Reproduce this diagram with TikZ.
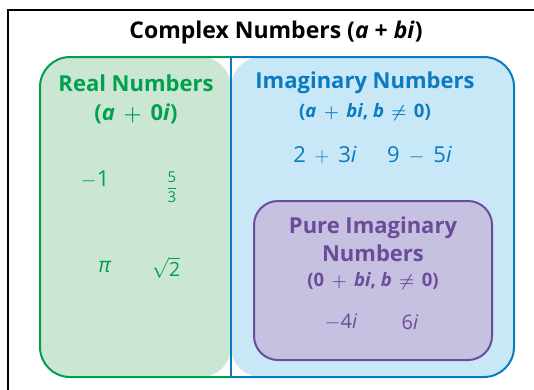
\documentclass[tikz,border=0pt]{standalone}
\usepackage{amsmath}
\usepackage{fontspec}
\setmainfont{Open Sans}
\usetikzlibrary{positioning}
\definecolor{realgreen}{HTML}{00A04E}
\definecolor{realfill}{HTML}{CCE6D4}
\definecolor{imagblue}{HTML}{0A7BC1}
\definecolor{imagfill}{HTML}{C8E8F8}
\definecolor{purefill}{HTML}{C6C1E0}
\definecolor{purepurple}{HTML}{6B4C9A}
% operator with a wide gap on both sides
\newcommand{\op}[1]{\hspace{0.4em}$#1$\hspace{0.4em}}

\tikzset{
  heading/.style={font=\bfseries\boldmath\fontsize{22}{28}\selectfont, inner sep=0pt},
  subhead/.style={font=\bfseries\boldmath\fontsize{18.5}{22}\selectfont, inner sep=0pt},
  member/.style={font=\fontsize{21}{24}\selectfont, inner sep=0pt},
  setline/.style={line width=2pt},
}

\begin{document}
\begin{tikzpicture}[x=1pt,y=-1pt]
  \useasboundingbox (0,0) rectangle (534,389);
  \clip (0,0) rectangle (534,389);
  % frame of the whole set, runs off the page on the right and bottom
  \draw[line width=1.6pt] (8,10) rectangle (560,420);
  % real part (left half) and imaginary part (right half)
  \fill[realfill, rounded corners=30pt] (231,57) -- (40,57) -- (40,377) -- (231,377) -- cycle;
  \fill[imagfill, rounded corners=30pt] (231,57) -- (514,57) -- (514,377) -- (231,377) -- cycle;
  \draw[setline, realgreen, rounded corners=30pt] (231,57) -- (40,57) -- (40,377) -- (231,377);
  \draw[setline, imagblue, rounded corners=30pt] (231,57) -- (514,57) -- (514,377) -- (231,377);
  \draw[setline, imagblue] (231,57) -- (231,377);
  % pure imaginary subset
  \draw[setline, purepurple, fill=purefill, rounded corners=24pt] (254,201) rectangle (492,360);

  % TITLE
  \node[heading, font=\bfseries\fontsize{23}{26}\selectfont] (complex) at (276,33) {Complex Numbers (\textit{a} + \textit{bi})};
  % REAL NUMBERS
  \node[heading, realgreen] (real) at (136,83) {Real Numbers};
  \node[heading, realgreen, below=12pt of real] (realform) {(\textit{a}\op{+}0\textit{i})};
  \node[member, realgreen, font=\fontsize{22}{24}\selectfont] (minusone) at (95,180) {$-$1};
  \node[member, realgreen, font=\fontsize{15}{18}\selectfont] (fivethirds) at (172,187) {$\dfrac{\text{5}}{\text{3}}$};
  \node[member, realgreen] (pi) at (105,267) {\textit{π}};
  \node[member, realgreen, font=\fontsize{19.5}{22}\selectfont] (roottwo) at (166,268) {$\sqrt{\text{2}}$};
  % IMAGINARY NUMBERS
  \node[heading, imagblue] (imag) at (365,83) {Imaginary Numbers};
  \node[subhead, imagblue, below=9pt of imag] (imagform) {(\textit{a}\op{+}\textit{bi}, \textit{b}\op{\neq}0)};
  \node[member, imagblue, font=\fontsize{22}{24}\selectfont] (twothree) at (325,155) {2\op{+}3\textit{i}};
  \node[member, imagblue, font=\fontsize{22}{24}\selectfont, right=30pt of twothree] (ninefive) {9\op{-}5\textit{i}};
  % PURE IMAGINARY NUMBERS
  \node[heading, purepurple, align=center] (pure) at (373,239) {Pure Imaginary\\Numbers};
  \node[subhead, purepurple, below=11pt of pure] (pureform) {(0\op{+}\textit{bi}, \textit{b}\op{\neq}0)};
  \node[member, purepurple, font=\fontsize{20}{24}\selectfont] (minusfour) at (341,322) {$-$4\textit{i}};
  \node[member, purepurple, font=\fontsize{20}{24}\selectfont] (six) at (410,322) {6\textit{i}};
\end{tikzpicture}
\end{document}
